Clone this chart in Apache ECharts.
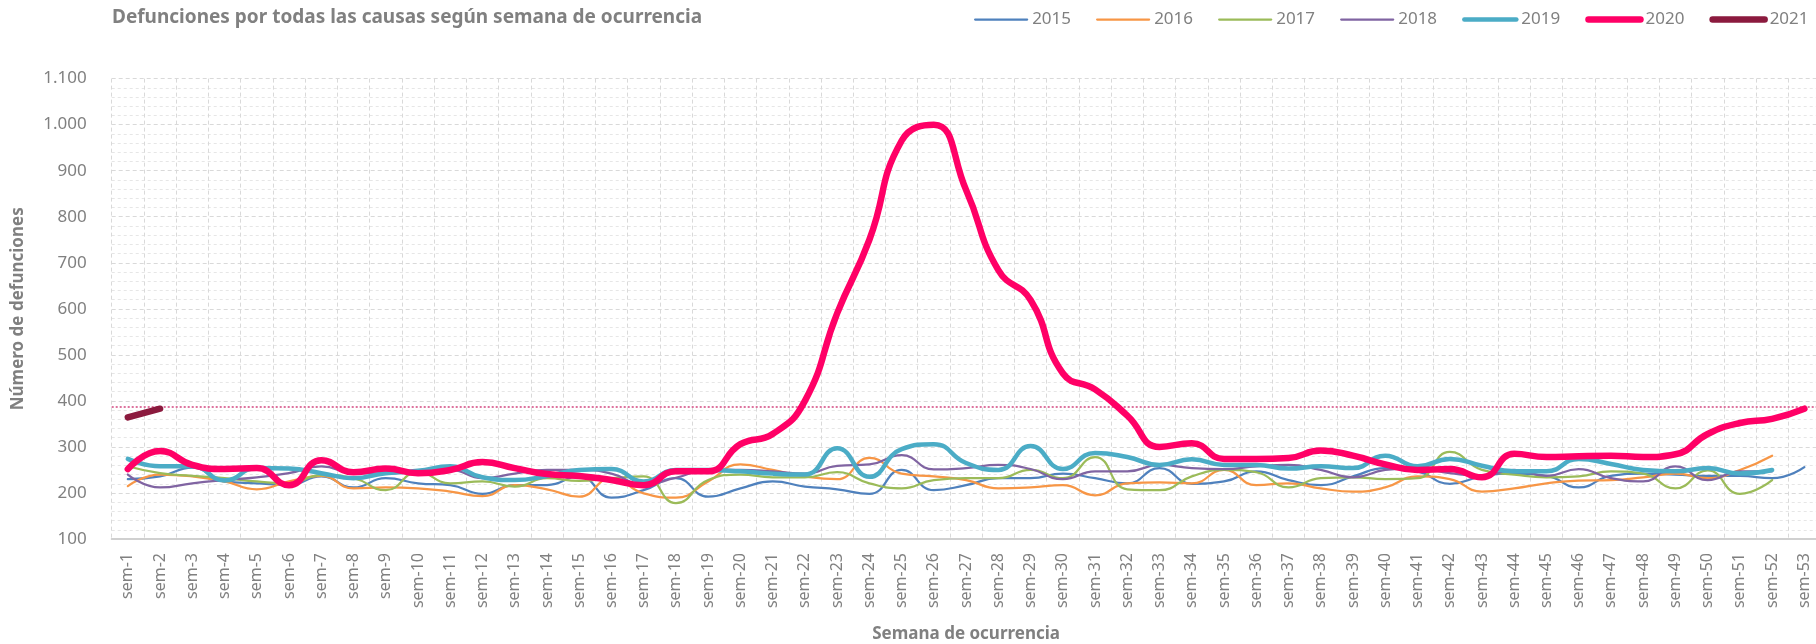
<!DOCTYPE html>
<html>
<head>
<meta charset="utf-8">
<title>Defunciones por semana</title>
<script src="https://cdn.jsdelivr.net/npm/echarts@6/dist/echarts.min.js"></script>
<style>
  html, body { margin: 0; padding: 0; background: #fff; }
  #main { width: 1816px; height: 644px; }
</style>
</head>
<body>
<div id="main"></div>
<script>
// semanas sem-1 .. sem-53
var weeks = [];
for (var i = 1; i <= 53; i++) weeks.push("sem-" + i);

var years = ["2015", "2016", "2017", "2018", "2019", "2020", "2021"];

var d2015 = [230, 236, 255, 225, 221, 218, 236, 212, 232, 221, 217, 198, 217, 217, 236, 190, 206, 232, 192, 210,
  225, 214, 208, 198, 250, 206, 217, 232, 232, 242, 232, 221, 254, 220, 225, 247, 228, 217, 236, 254,
  247, 220, 236, 242, 237, 212, 237, 242, 240, 237, 237, 232, 256];
var d2016 = [215, 240, 236, 225, 208, 225, 237, 210, 212, 210, 203, 193, 217, 208, 192, 232, 199, 190, 225, 262,
  250, 236, 230, 276, 242, 236, 228, 210, 212, 217, 195, 221, 223, 221, 250, 217, 221, 210, 203, 212,
  236, 230, 203, 210, 221, 227, 228, 234, 242, 232, 250, 281];
var d2017 = [258, 243, 237, 232, 225, 221, 239, 232, 206, 245, 221, 225, 214, 232, 226, 232, 236, 178, 228, 240,
  234, 234, 245, 221, 210, 228, 232, 232, 250, 232, 278, 208, 206, 236, 250, 245, 212, 232, 234, 230,
  232, 289, 250, 240, 234, 236, 247, 242, 210, 249, 198, 228];
var d2018 = [240, 212, 221, 228, 234, 243, 258, 243, 242, 247, 250, 232, 242, 250, 250, 242, 218, 233, 250, 250,
  247, 242, 259, 262, 282, 251, 254, 261, 252, 230, 247, 247, 261, 254, 252, 258, 261, 250, 234, 250,
  254, 243, 237, 250, 237, 252, 232, 225, 258, 228, 247, 247];
var d2019 = [274, 258, 258, 227, 254, 253, 243, 232, 243, 248, 258, 234, 228, 237, 250, 252, 225, 250, 250, 247,
  242, 240, 297, 235, 295, 306, 265, 250, 302, 252, 287, 278, 261, 273, 261, 261, 253, 258, 254, 281,
  258, 274, 259, 247, 247, 274, 263, 250, 247, 254, 242, 250];
var d2020 = [252, 291, 261, 252, 254, 217, 271, 245, 253, 243, 250, 267, 254, 241, 237, 228, 217, 247, 247, 306,
  328, 400, 590, 750, 965, 1000, 858, 684, 619, 460, 425, 368, 300, 308, 274, 274, 276, 292, 281, 262,
  250, 252, 234, 285, 278, 280, 281, 278, 284, 328, 352, 361, 383];
var d2021 = [364, 383];

var refValue = 387;

var colors = ["#4F81BD", "#F79646", "#9BBB59", "#8064A2", "#4BACC6", "#FF0066", "#8B1A3E"];
var widths = [2.25, 2.25, 2.25, 2.25, 4.5, 6.5, 6.5];
var allData = [d2015, d2016, d2017, d2018, d2019, d2020, d2021];

var grey = "#808080";
var font = "Noto Sans";

var myChart = echarts.init(document.getElementById("main"), null, { renderer: "canvas" });
var option;

var series = years.map(function (y, i) {
  var s = {
    name: y,
    type: "line",
    data: allData[i],
    smooth: 0.5,
    symbol: "none",
    color: colors[i],
    lineStyle: { width: widths[i], color: colors[i], cap: "round", join: "round" },
    z: 2 + i
  };
  if (y === "2020") {
    s.markLine = {
      silent: true,
      symbol: ["none", "none"],
      label: { show: false },
      lineStyle: { type: [2, 2], color: "#D2467F", width: 1.5 },
      data: [{ yAxis: refValue }]
    };
  }
  return s;
});

option = {
  animation: false,
  textStyle: { fontFamily: font },
  title: {
    text: "Defunciones por todas las causas según semana de ocurrencia",
    left: 112,
    top: 8,
    padding: 0,
    textStyle: { fontFamily: font, fontSize: 19, fontWeight: "bold", color: grey }
  },
  legend: {
    data: years,
    left: 974,
    top: 11,
    width: 900,
    padding: 0,
    itemWidth: 52,
    itemHeight: 14,
    itemGap: 25,
    itemStyle: { opacity: 0 },
    lineStyle: { width: "inherit", cap: "round" },
    textStyle: { fontFamily: font, fontSize: 17, color: grey }
  },
  grid: {
    left: 111.7,
    right: -4.5,
    top: 78.6,
    bottom: 105,
    outerBoundsMode: "none",
    containLabel: false
  },
  xAxis: {
    type: "category",
    data: weeks,
    boundaryGap: true,
    name: "Semana de ocurrencia",
    nameLocation: "middle",
    nameGap: 87,
    nameTextStyle: { fontFamily: font, fontSize: 17, fontWeight: "bold", color: grey },
    axisLine: { lineStyle: { color: "#D0D0D0", width: 2 } },
    axisTick: { show: false },
    axisLabel: { interval: 0, rotate: 90, margin: 14, fontSize: 16, color: grey, fontFamily: font },
    splitLine: { show: true, interval: 0, lineStyle: { color: "#D9D9D9", type: [4, 3], width: 1 } }
  },
  yAxis: {
    type: "value",
    min: 100,
    max: 1100,
    interval: 100,
    name: "Número de defunciones",
    nameLocation: "middle",
    nameGap: 85,
    nameTextStyle: { fontFamily: font, fontSize: 17, fontWeight: "bold", color: grey },
    axisLine: { show: false },
    axisTick: { show: false },
    axisLabel: {
      margin: 25,
      fontSize: 17,
      color: grey,
      fontFamily: font,
      formatter: function (v) {
        return String(v).replace(/\B(?=(\d{3})+(?!\d))/g, ".");
      }
    },
    splitLine: { lineStyle: { color: "#D9D9D9", type: [4, 3], width: 1 } },
    minorTick: { show: false, splitNumber: 5 },
    minorSplitLine: { show: true, lineStyle: { color: "#E6E6E6", type: [3, 3], width: 1 } }
  },
  series: series
};

option && myChart.setOption(option);
</script>
</body>
</html>
